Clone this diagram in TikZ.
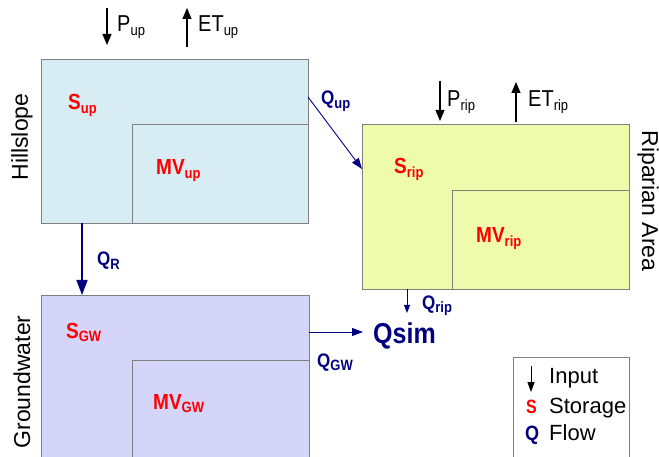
\documentclass[tikz,border=0pt]{standalone}
\usepackage{fontspec}
\setmainfont{Liberation Sans}
\usetikzlibrary{arrows.meta}
\definecolor{hillfill}{HTML}{D7ECF3}
\definecolor{ripfill}{HTML}{EEFBAA}
\definecolor{gwfill}{HTML}{D5D5FA}
\definecolor{edgegray}{HTML}{808080}
\definecolor{labred}{HTML}{FF0000}
\definecolor{navy}{HTML}{000080}
\newcommand\sbx[1]{\raisebox{-3pt}{\fontsize{13}{13}\selectfont #1}}
\begin{document}
\begin{tikzpicture}[x=1pt,y=-1pt,
  box/.style={draw=edgegray, line width=0.9pt, inner sep=0pt, outer sep=0pt},
  lbl/.style={inner sep=0pt, anchor=base west, yscale=1.15},
  txt/.style={lbl, font=\fontsize{20}{24}\selectfont},
  redlbl/.style={lbl, text=labred, font=\bfseries\fontsize{19}{22}\selectfont},
  flowlbl/.style={lbl, text=navy, font=\bfseries\fontsize{17}{22}\selectfont},
  legtxt/.style={inner sep=0pt, anchor=base west, font=\fontsize{22}{26}\selectfont},
  side/.style={inner sep=0pt, font=\fontsize{23}{26}\selectfont},
  inarrow/.style={-{Triangle[length=11pt,width=9pt]}, line width=1.1pt, black},
  qarrow/.style={-{Triangle[length=11pt,width=8pt]}, line width=0.9pt, navy},
]
\useasboundingbox (0,0) rectangle (659,457);
\clip (0,0) rectangle (659,457);

% boxes
\node[box, fill=hillfill, minimum width=267pt, minimum height=164pt] (hill) at (174.5,141) {};
\draw[edgegray, line width=0.9pt] (hill.south east) rectangle (132,124);
\node[box, fill=ripfill, minimum width=267pt, minimum height=165pt] (rip) at (495.5,206.5) {};
\draw[edgegray, line width=0.9pt] (rip.south east) rectangle (452,190);
\node[box, fill=gwfill, minimum width=268pt, minimum height=175pt] (gw) at (175,382.5) {};
\draw[edgegray, line width=0.9pt] (gw.south east) rectangle (132,360);
\node[box, fill=white, minimum width=116pt, minimum height=113pt] (leg) at (571,413.5) {};

% side labels
\node[side, rotate=90] (hilltxt) at (22,137) {Hillslope};
\node[side, rotate=90] (gwtxt) at (22,382) {Groundwater};
\node[side, rotate=-90] (riptxt) at (648,201) {Riparian Area};

% inputs
\node[txt] (pup) at (117,32) {P\sbx{up}};
\node[txt] (etup) at (198,32) {ET\sbx{up}};
\node[txt] (prip) at (447,107) {P\sbx{rip}};
\node[txt] (etrip) at (528,107) {ET\sbx{rip}};
\coordinate (pupA) at (107,8);  \coordinate (pupB) at (107,45);
\coordinate (etupA) at (187,47); \coordinate (etupB) at (187,8);
\coordinate (pripA) at (440,81); \coordinate (pripB) at (440,121);
\coordinate (etripA) at (516,122); \coordinate (etripB) at (516,82);
\draw[inarrow] (pupA) -- (pupB);
\draw[inarrow] (etupA) -- (etupB);
\draw[inarrow] (pripA) -- (pripB);
\draw[inarrow] (etripA) -- (etripB);

% storages
\node[redlbl] (sup) at (68,110) {S\sbx{up}};
\node[redlbl] (mvup) at (156,175) {MV\sbx{up}};
\node[redlbl] (srip) at (394,174) {S\sbx{rip}};
\node[redlbl] (mvrip) at (476,243) {MV\sbx{rip}};
\node[redlbl] (sgw) at (66,338) {S\sbx{GW}};
\node[redlbl] (mvgw) at (153,409) {MV\sbx{GW}};

% flows
\node[flowlbl] (qup) at (321,105) {Q\sbx{up}};
\node[flowlbl] (qr) at (97,266) {Q\sbx{R}};
\node[flowlbl] (qrip) at (422,309) {Q\sbx{rip}};
\node[flowlbl] (qgw) at (317,367) {Q\sbx{GW}};
\node[lbl, text=navy, font=\bfseries\fontsize{25}{30}\selectfont] (qsim) at (373,343) {Qsim};

\draw[qarrow] ([yshift=-38pt]hill.north east) -- ([yshift=-45pt]rip.north west);
\draw[qarrow, line width=1.6pt, -{Triangle[length=15pt,width=11pt]}] ([xshift=41pt]hill.south west) -- ([xshift=41pt]gw.north west);
\coordinate (qripEnd) at (407,313);
\draw[qarrow, -{Triangle[length=8pt,width=6pt]}] ([xshift=45pt]rip.south west) -- (qripEnd);
\coordinate (qgwA) at ([yshift=-37pt]gw.north east);
\draw[qarrow, shorten >=10pt] (qgwA) -- (qgwA -| qsim.west);

% legend
\coordinate (legA) at (531,366); \coordinate (legB) at (531,392);
\draw[-{Triangle[length=10pt,width=7pt]}, line width=0.9pt] (legA) -- (legB);
\node[legtxt] (lin) at (549,383) {Input};
\node[inner sep=0pt, anchor=base west, text=labred, font=\bfseries\fontsize{16}{20}\selectfont, yscale=1.2] (ls) at (526,413) {S};
\node[legtxt] (lst) at (549,413) {Storage};
\node[inner sep=0pt, anchor=base west, text=navy, font=\bfseries\fontsize{18}{22}\selectfont, yscale=1.15] (lq) at (525,440) {Q};
\node[legtxt] (lfl) at (549,440) {Flow};
\end{tikzpicture}
\end{document}
